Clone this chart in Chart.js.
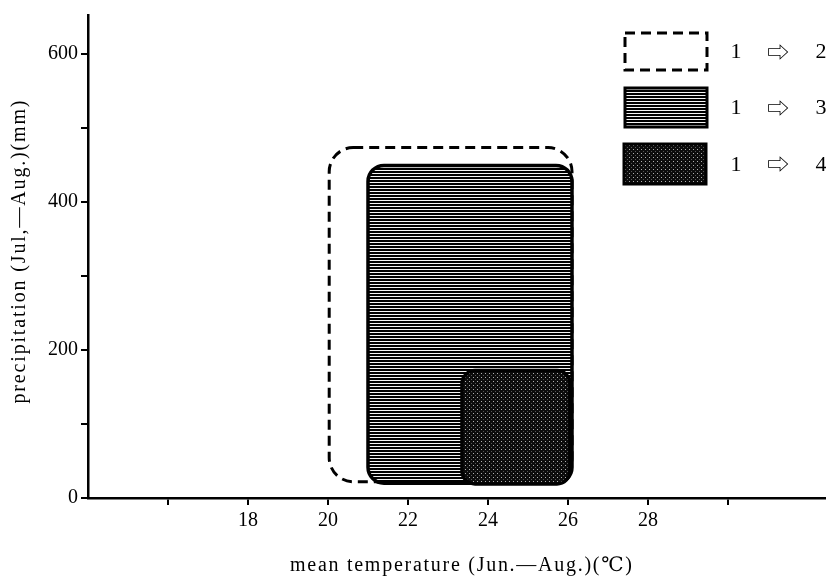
<!DOCTYPE html>
<html>
<head>
<meta charset="utf-8">
<script src="https://cdn.jsdelivr.net/npm/chart.js@4"></script>
<style>
  html, body { margin: 0; padding: 0; background: #fff; }
  #wrap { width: 826px; height: 578px; }
</style>
</head>
<body>
<div id="wrap"><canvas id="myChart" width="826" height="578"></canvas></div>
<script>
// ranges of each change type (temperature in C, precipitation in mm)
var regionLabels = ['1 \u21E8 2', '1 \u21E8 3', '1 \u21E8 4'];
var tempLow = [20.03, 21.0, 23.35];
var tempHigh = [26.1, 26.1, 26.05];
var precipLow = [22, 20, 19];
var precipHigh = [473, 449, 172];

var xTickValues = [16, 18, 20, 22, 24, 26, 28, 30];
var xTickShown = [18, 20, 22, 24, 26, 28];
var yTickValues = [0, 100, 200, 300, 400, 500, 600];
var yTickShown = [0, 200, 400, 600];

var xTitle = 'mean temperature (Jun.\u2014Aug.)(\u2103)';
var yTitle = 'precipitation (Jul,\u2014Aug.)(mm)';

var serif = '"Liberation Serif", "DejaVu Serif", serif';

function makePattern(kind) {
    var c = document.createElement('canvas');
    var g = c.getContext('2d');
    if (kind === 'stripes') {
        c.width = 4; c.height = 3;
        g.fillStyle = '#f4f4f4'; g.fillRect(0, 0, 4, 3);
        g.fillStyle = '#000'; g.fillRect(0, 0, 4, 2);
    } else {
        c.width = 4; c.height = 4;
        g.fillStyle = '#0c0c0c'; g.fillRect(0, 0, 4, 4);
        g.fillStyle = '#b0b0b0'; g.fillRect(1, 1, 1, 1);
        g.fillStyle = '#555'; g.fillRect(3, 3, 1, 1);
    }
    return g.createPattern(c, 'repeat');
}

var styles = [
    {fill: null, dash: [10, 6], width: 3, radius: 24},
    {fill: 'stripes', dash: [], width: 3.5, radius: 16},
    {fill: 'dots', dash: [], width: 3.5, radius: 13}
];

function roundRect(ctx, x1, y1, x2, y2, r) {
    ctx.beginPath();
    ctx.moveTo(x1 + r, y1);
    ctx.lineTo(x2 - r, y1);
    ctx.arcTo(x2, y1, x2, y1 + r, r);
    ctx.lineTo(x2, y2 - r);
    ctx.arcTo(x2, y2, x2 - r, y2, r);
    ctx.lineTo(x1 + r, y2);
    ctx.arcTo(x1, y2, x1, y2 - r, r);
    ctx.lineTo(x1, y1 + r);
    ctx.arcTo(x1, y1, x1 + r, y1, r);
    ctx.closePath();
}

// spaced-out title text, stretched to the width the scan shows
function spacedText(ctx, text, cx, cy, span) {
    ctx.letterSpacing = '0px';
    var w = ctx.measureText(text).width;
    var sp = (span - w) / (text.length - 1);
    ctx.letterSpacing = sp + 'px';
    ctx.textAlign = 'left';
    ctx.fillText(text, cx - span / 2, cy);
    ctx.letterSpacing = '0px';
}

var regionPlugin = {
    id: 'regions',
    beforeDatasetsDraw: function(chart) {
        var ctx = chart.ctx;
        chart.data.datasets.forEach(function(ds, i) {
            var pts = chart.getDatasetMeta(i).data;
            var st = styles[i];
            var x1 = pts[0].x, y2 = pts[0].y, x2 = pts[1].x, y1 = pts[1].y;
            ctx.save();
            roundRect(ctx, x1, y1, x2, y2, st.radius);
            if (st.fill) {
                ctx.fillStyle = makePattern(st.fill);
                ctx.fill();
            }
            ctx.setLineDash(st.dash);
            ctx.lineWidth = st.width;
            ctx.strokeStyle = '#000';
            ctx.stroke();
            ctx.restore();
        });
    },
    afterDraw: function(chart) {
        var ctx = chart.ctx;
        // axis titles
        ctx.save();
        ctx.fillStyle = '#000';
        ctx.font = '20px ' + serif;
        ctx.textBaseline = 'middle';
        spacedText(ctx, xTitle, 461, 566, 342);
        ctx.translate(20, 252);
        ctx.rotate(-Math.PI / 2);
        spacedText(ctx, yTitle, 0, 0, 303);
        ctx.restore();

        // legend in the upper right corner
        var boxes = [[625, 33, 707, 70], [625, 88, 707, 127], [624, 144, 706, 184]];
        regionLabels.forEach(function(lbl, i) {
            var b = boxes[i];
            var st = styles[i];
            ctx.save();
            ctx.beginPath();
            ctx.rect(b[0], b[1], b[2] - b[0], b[3] - b[1]);
            if (st.fill) {
                ctx.fillStyle = makePattern(st.fill);
                ctx.fill();
            }
            ctx.setLineDash(st.dash);
            ctx.lineWidth = 3;
            ctx.strokeStyle = '#000';
            ctx.stroke();
            ctx.setLineDash([]);
            var parts = lbl.split(' ');
            var cy = (b[1] + b[3]) / 2 + 1;
            ctx.fillStyle = '#000';
            ctx.textAlign = 'center';
            ctx.textBaseline = 'middle';
            ctx.font = '22px ' + serif;
            ctx.fillText(parts[0], 736, cy);
            ctx.font = '22px "Noto Sans CJK JP", "DejaVu Sans", sans-serif';
            ctx.fillText(parts[1], 778, cy - 1);
            ctx.font = '22px ' + serif;
            ctx.fillText(parts[2], 821, cy);
            ctx.restore();
        });
    }
};

var datasets = regionLabels.map(function(lbl, i) {
    return {
        label: lbl,
        data: [{x: tempLow[i], y: precipLow[i]}, {x: tempHigh[i], y: precipHigh[i]}],
        pointRadius: 0,
        showLine: false
    };
});

var ctx = document.getElementById('myChart').getContext('2d');

var chart = new Chart(ctx, {
    type: 'scatter',
    data: { datasets: datasets },
    plugins: [regionPlugin],
    options: {
        responsive: false,
        animation: false,
        layout: { padding: { top: 9, right: 0, left: 0, bottom: 0 } },
        plugins: {
            legend: { display: false },
            tooltip: { enabled: false }
        },
        scales: {
            x: {
                type: 'linear',
                min: 14,
                max: 32.45,
                afterBuildTicks: function(scale) {
                    scale.ticks = xTickValues.map(function(v) { return {value: v}; });
                },
                afterFit: function(scale) { scale.height = 80; },
                border: { color: '#000', width: 2.5 },
                grid: { drawOnChartArea: false, color: '#000', lineWidth: 2, tickLength: 7 },
                ticks: {
                    color: '#000',
                    padding: 4,
                    maxRotation: 0,
                    font: { family: serif, size: 20 },
                    callback: function(v) { return xTickShown.indexOf(v) >= 0 ? String(v) : ''; }
                }
            },
            y: {
                type: 'linear',
                min: 0,
                max: 652,
                afterBuildTicks: function(scale) {
                    scale.ticks = yTickValues.map(function(v) { return {value: v}; });
                },
                afterFit: function(scale) { scale.width = 88; },
                border: { color: '#000', width: 2.5 },
                grid: { drawOnChartArea: false, color: '#000', lineWidth: 2, tickLength: 7 },
                ticks: {
                    color: '#000',
                    padding: 3,
                    font: { family: serif, size: 20 },
                    callback: function(v) { return yTickShown.indexOf(v) >= 0 ? String(v) : ''; }
                }
            }
        }
    }
});
</script>
</body>
</html>
